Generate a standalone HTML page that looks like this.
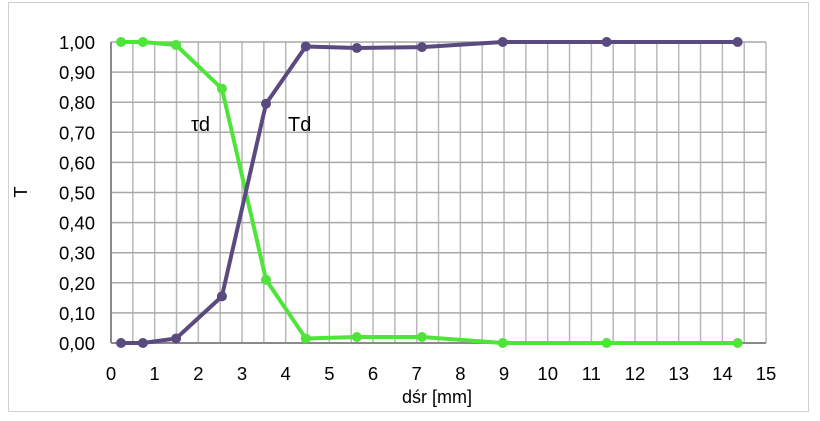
<!DOCTYPE html>
<html><head><meta charset="utf-8"><style>
body{margin:0;background:#fff;font-family:"Liberation Sans",sans-serif}
</style></head><body>
<svg id="chart" width="820" height="416" xmlns="http://www.w3.org/2000/svg">
<rect x="8.5" y="2.5" width="800" height="409" fill="#fff" stroke="#d0d0d0"/>
<g id="grid"></g><g id="axes"></g><g id="series"></g>
<text x="191" y="131" font-size="20" fill="#000">τd</text>
<text x="288" y="131" font-size="20" fill="#000">Td</text>
<text x="437" y="403" font-size="18" text-anchor="middle">dśr [mm]</text>
<text x="0" y="0" font-size="18" text-anchor="middle" transform="translate(27,192) rotate(-90)">T</text>
</svg>
<script>
const xVals=[0.23,0.73,1.49,2.54,3.55,4.46,5.63,7.12,8.97,11.35,14.35];
const tauD=[1.00,1.00,0.99,0.845,0.21,0.015,0.02,0.02,0.00,0.00,0.00];
const Td=[0.00,0.00,0.015,0.155,0.795,0.985,0.98,0.983,1.00,1.00,1.00];
const xTicks=[0,1,2,3,4,5,6,7,8,9,10,11,12,13,14,15];
const yTicks=[0,0.1,0.2,0.3,0.4,0.5,0.6,0.7,0.8,0.9,1.0];
const NS="http://www.w3.org/2000/svg";
const X=v=>111+v*43.67, Y=v=>343-v*301;
function mk(tag,attrs,parent){const e=document.createElementNS(NS,tag);for(const k in attrs)e.setAttribute(k,attrs[k]);parent.appendChild(e);return e;}
const grid=document.getElementById('grid'),axes=document.getElementById('axes'),ser=document.getElementById('series');
for(let i=1;i<=30;i++){const v=i*0.5;
 const l=mk('line',{x1:X(v),x2:X(v),y1:Y(1),y2:Y(0),stroke:'#b8b8b8','stroke-width':1.5},grid);
 
 }
yTicks.forEach(v=>{const l=mk('line',{x1:X(0),x2:X(15),y1:Y(v),y2:Y(v),stroke:v===0?'#8a8a8a':'#a8a8a8','stroke-width':v===0?2:1.5},grid);
 
 
 const t=mk('text',{x:95,y:Y(v)+7,'font-size':18.5,'text-anchor':'end'},axes);t.textContent=v.toFixed(2).replace('.',',');
 
 });
const ya=mk('line',{x1:X(0),x2:X(0),y1:Y(1),y2:Y(0),stroke:'#8a8a8a','stroke-width':2},axes);


xTicks.forEach(v=>{const t=mk('text',{x:X(v),y:380,'font-size':18.5,'text-anchor':'middle'},axes);t.textContent=v;
 
 });
function series(vals,color,name){
 const p=mk('polyline',{points:xVals.map((x,i)=>X(x)+','+Y(vals[i])).join(' '),fill:'none',stroke:color,'stroke-width':4,'stroke-linejoin':'round'},ser);
 
 
 xVals.forEach((x,i)=>{const c=mk('circle',{cx:X(x),cy:Y(vals[i]),r:5,fill:color},ser);
  
  });
}
series(tauD,'#4ee43a','tau-d');
series(Td,'#5b4a7f','T-d');
</script>
</body></html>
